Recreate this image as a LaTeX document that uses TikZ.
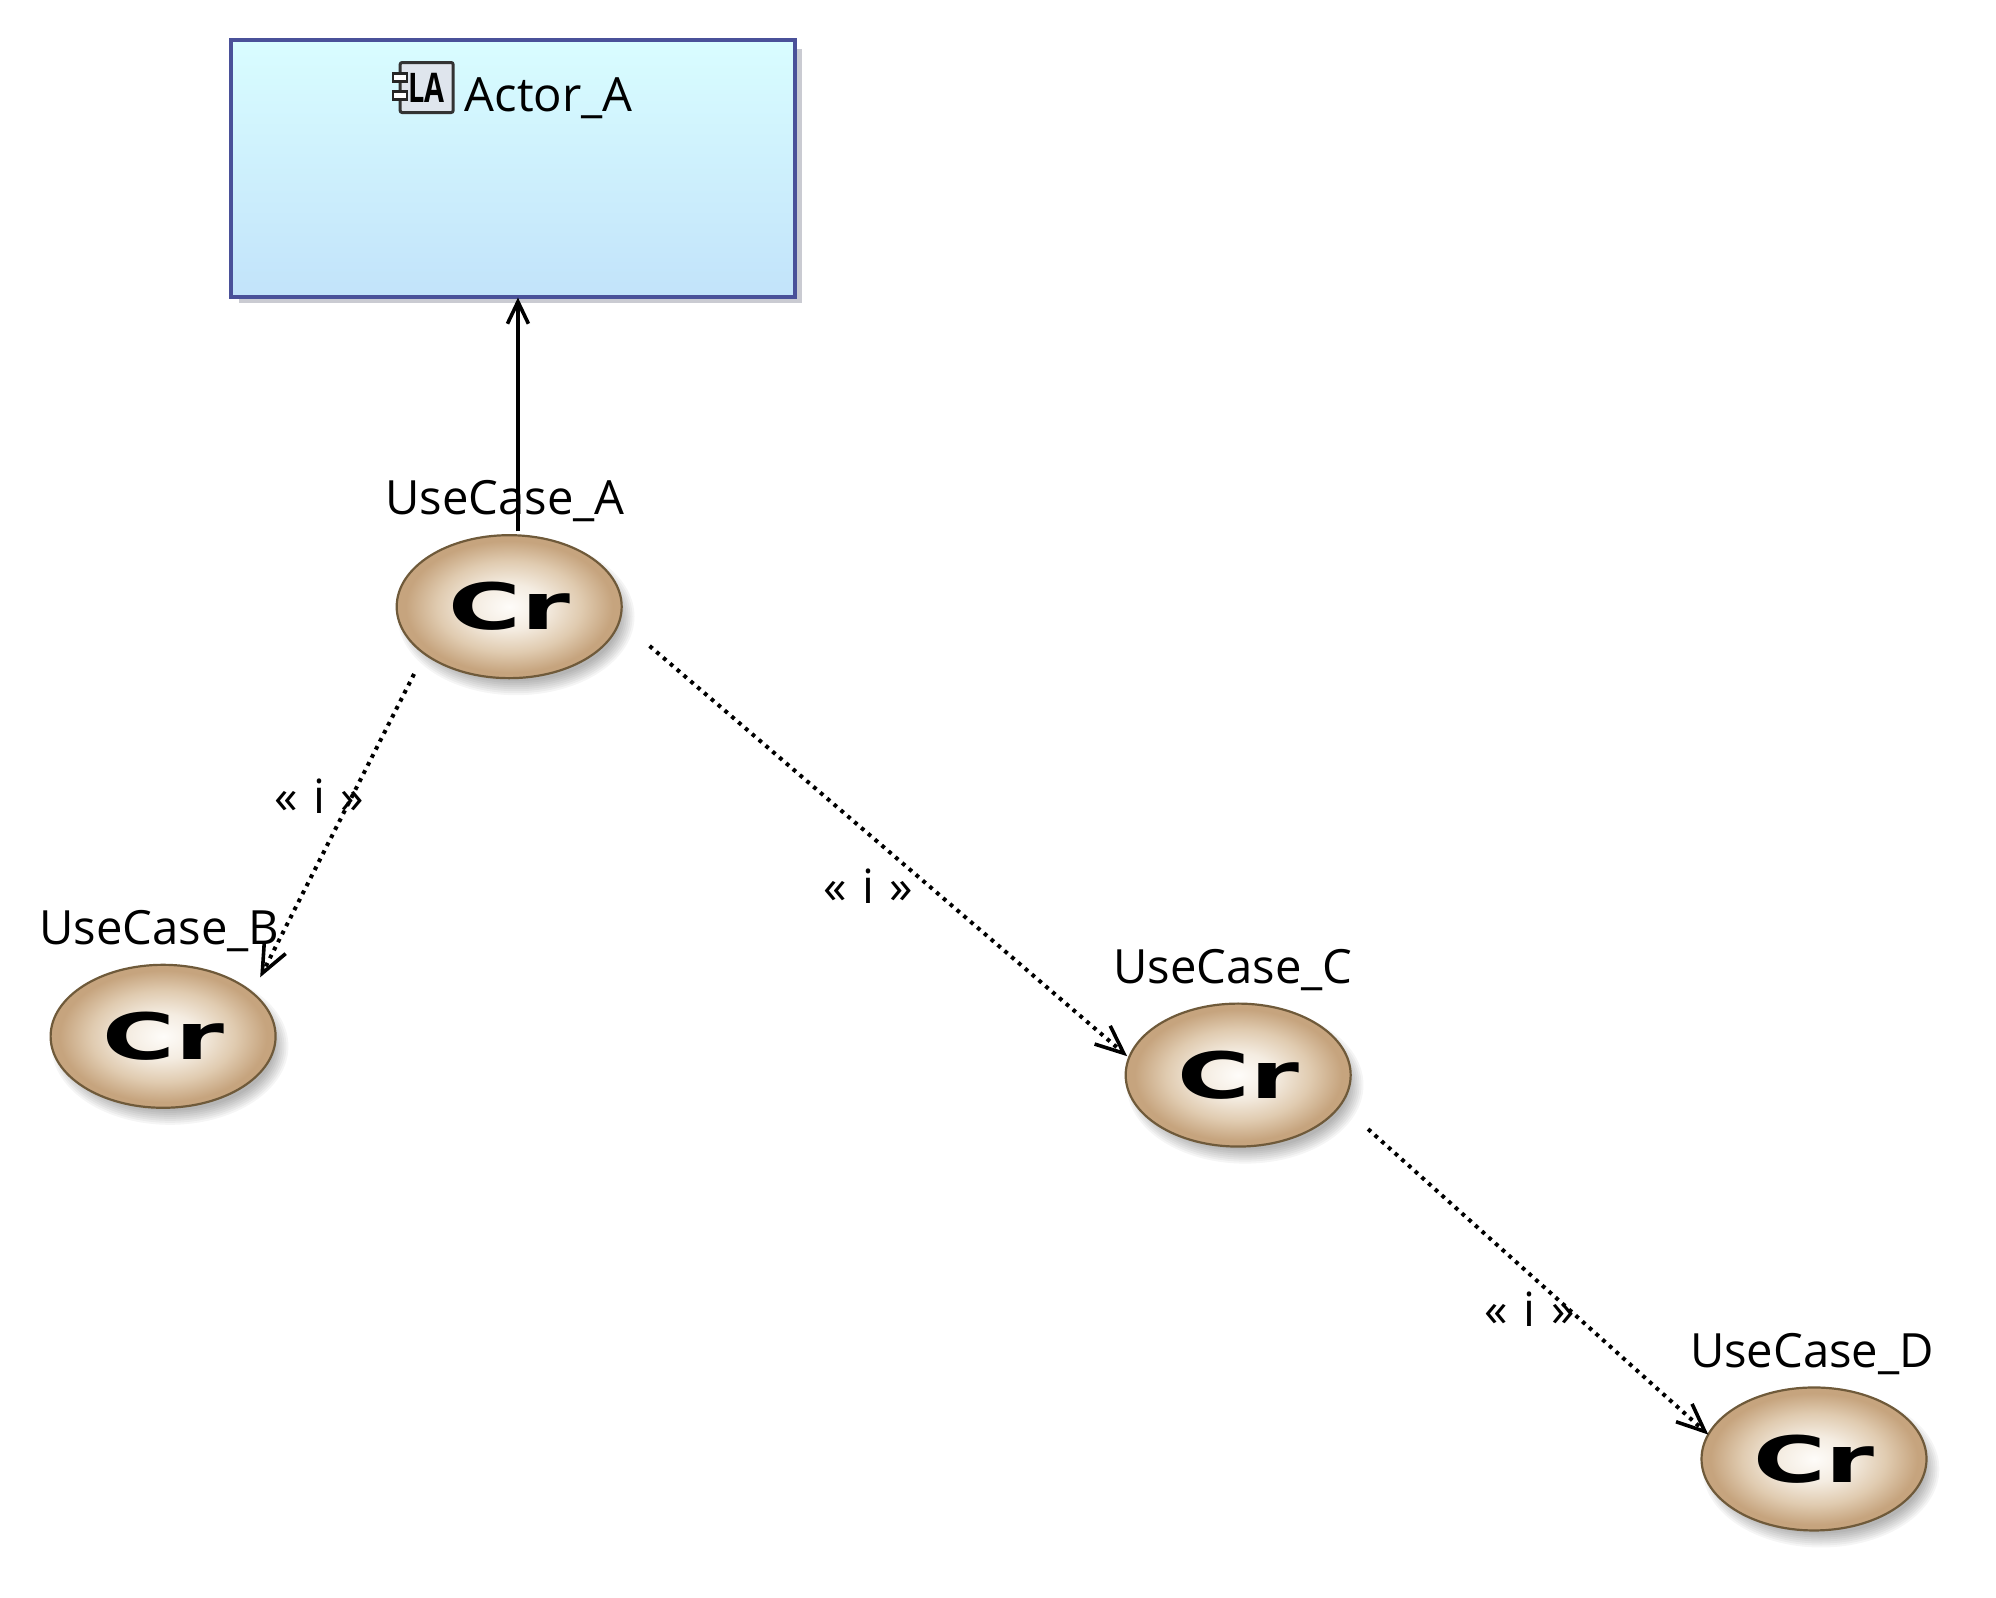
\documentclass[tikz,border=0pt]{standalone}
\usepackage{fontspec}
\usepackage{graphicx}
\usetikzlibrary{arrows.meta,shapes.geometric,calc}
\setmainfont{Open Sans}
\newfontfamily\crfont{DejaVu Sans}[BoldFont={DejaVu Sans Bold}]
\definecolor{crEdge}{HTML}{C6A47E}
\definecolor{crMidA}{HTML}{E0CBB0}
\definecolor{crMidB}{HTML}{F4ECE1}
\definecolor{crCore}{HTML}{FEFCF9}
\definecolor{crLine}{HTML}{6F5A3A}
\definecolor{boxTop}{HTML}{D9FDFF}
\definecolor{boxBot}{HTML}{C2E3FA}
\definecolor{boxLine}{HTML}{4A5199}
\definecolor{boxShadow}{HTML}{CACBD2}
\definecolor{iconFill}{HTML}{DFE5ED}
\pgfdeclareradialshading{crball}{\pgfpointorigin}{color(0bp)=(crCore); color(8bp)=(crMidB); color(16bp)=(crMidA); color(23bp)=(crEdge); color(25bp)=(crEdge); color(50bp)=(crEdge)}
\newcommand{\ucshadow}[2]{%
  \foreach \r in {0,2,...,14}{%
    \fill[black,opacity=0.04] (#1+7,#2+10) ellipse [x radius=105+\r, y radius=65+\r];
  }%
}
\tikzset{
  usecase/.style={ellipse,draw=crLine,line width=1.1pt,shading=crball,minimum width=112.5pt,minimum height=71.5pt,inner sep=0pt,outer sep=0pt,font=\crfont\bfseries\fontsize{32}{32}\selectfont,text=black},
  uclabel/.style={anchor=base west,inner sep=0pt,font=\fontsize{23.6}{28}\selectfont,text=black},
  stereo/.style={anchor=center,inner sep=0pt,font=\fontsize{23.6}{28}\selectfont,text=black},
  actorbox/.style={rectangle,draw=boxLine,line width=2pt,top color=boxTop,bottom color=boxBot,minimum width=282pt,minimum height=128.5pt,inner sep=0pt,outer sep=0pt},
  port/.style={rectangle,draw=black!85,line width=1.2pt,fill=white,minimum width=7pt,minimum height=4pt,inner sep=0pt},
  assoc/.style={line width=1.7pt,-{Straight Barb[length=11pt,width=10.5pt,line width=1.8pt]}},
  include/.style={line width=2pt,dash pattern=on 1.9pt off 2.6pt,-{Straight Barb[length=14pt,width=12pt,line width=1.8pt]}},
}
\newcommand{\crtext}{\scalebox{1.55}[1]{Cr}}
\begin{document}
\begin{tikzpicture}[x=0.4973pt,y=-0.4973pt]
\useasboundingbox (0,0) rectangle (2007,1606);
\fill[white] (0,0) rectangle (2007,1606);
% actor box
\fill[boxShadow] (240,49) rectangle (806,305);
\node[actorbox] (actor) at (516,169) {};
\node[uclabel] (actorlabel) at (467,112) {Actor\_A};
% component icon
\node[rectangle,draw=black!80,line width=1.5pt,fill=iconFill,rounded corners=1pt,minimum width=26.5pt,minimum height=25pt,inner sep=0pt,font=\fontsize{17}{17}\selectfont\bfseries] (icon) at (429,88) {\scalebox{0.85}[1.2]{LA}};
\node[port] (portA) at (402,78) {};
\node[port] (portB) at (402,96) {};
% shadows
\ucshadow{512}{610}
\ucshadow{164}{1042}
\ucshadow{1245}{1081}
\ucshadow{1824}{1467}
% use cases
\node[usecase] (ucA) at (512,610) {\crtext};
\node[usecase] (ucB) at (164,1042) {\crtext};
\node[usecase] (ucC) at (1245,1081) {\crtext};
\node[usecase] (ucD) at (1824,1467) {\crtext};
% labels
\node[uclabel] (labA) at (387,517) {UseCase\_A};
\node[uclabel] (labB) at (39,950) {UseCase\_B};
\node[uclabel] (labC) at (1119,989) {UseCase\_C};
\node[uclabel] (labD) at (1699,1375) {UseCase\_D};
\node[stereo] (stAB) at (321,801) {«\,\,i\,\,»};
\node[stereo] (stAC) at (873,891) {«\,\,i\,\,»};
\node[stereo] (stCD) at (1538,1316) {«\,\,i\,\,»};
% connectors
\draw[assoc,shorten <=2pt,shorten >=0.5pt] (ucA.83) -- (ucA.83 |- actor.south);
\draw[include,shorten <=11.4pt,shorten >=8.7pt] (ucA.209.05) -- (ucB.26.3);
\draw[include,shorten <=19.75pt,shorten >=1.25pt] (ucA.-7.3) -- (ucC.171.6);
\draw[include,shorten <=18.4pt] (ucC.-16.5) -- (ucD.167.4);
\end{tikzpicture}
\end{document}
